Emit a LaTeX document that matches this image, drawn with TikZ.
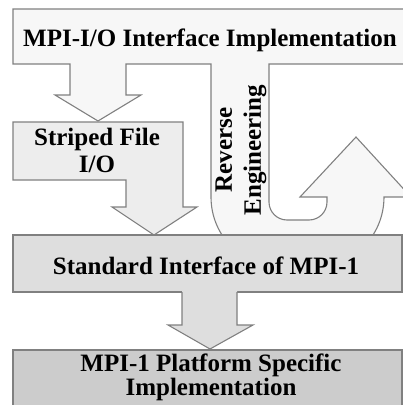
\documentclass[tikz,border=0pt]{standalone}
\usepackage{fontspec}
\setmainfont{Liberation Serif}
\begin{document}
\begin{tikzpicture}[x=1pt, y=-1pt,
  blk/.style={draw=black!50, line width=1.1pt},
  lbl/.style={font=\fontsize{25}{27}\selectfont\bfseries, align=center, inner sep=0pt}]
  \useasboundingbox (0,0) rectangle (403,405);
  \clip (0,0) rectangle (403,405);
  \filldraw[blk, fill=black!3] (13,9) -- (420,9) -- (420,64) -- (269,64) -- (269,202)
    arc[start angle=180, end angle=90, radius=18] -- (309,220)
    arc[start angle=90, end angle=0, radius=18] -- (327,197) -- (300,197) -- (356,137)
    -- (411,197) -- (384,197) arc[start angle=0, end angle=90, radius=71] -- (282,268)
    arc[start angle=90, end angle=180, radius=71] -- (211,64) -- (126,64) -- (126,95)
    -- (141,95) -- (98,121) -- (55,95) -- (70,95) -- (70,64) -- (13,64) -- cycle;
  \filldraw[blk, fill=black!7] (13,122) -- (183,122) -- (183,207) -- (197,207) -- (154,235)
    -- (112,207) -- (126,207) -- (126,180) -- (13,180) -- cycle;
  \filldraw[blk, fill=black!13] (13,235) rectangle (402,292);
  \fill[black!13] (182,291) -- (182,325) -- (168,325) -- (210,349) -- (253,325) -- (237,325) -- (237,291) -- cycle;
  \draw[blk] (182,292) -- (182,325) -- (168,325) -- (210,349) -- (253,325) -- (237,325) -- (237,292);
  \filldraw[blk, fill=black!20] (13,350) rectangle (402,420);
  \node[lbl, anchor=base] (mpiio) at (210,46) {MPI-I/O Interface Implementation};
  \node[lbl, font=\fontsize{25}{27}\selectfont\bfseries] (striped) at (97,150) {Striped File\\I/O};
  \node[lbl, rotate=90, font=\fontsize{25}{29}\selectfont\bfseries] (reverse) at (241,150) {Reverse\\Engineering};
  \node[lbl, anchor=base] (standard) at (206,274) {Standard Interface of MPI-1};
  \node[lbl, font=\fontsize{25}{24}\selectfont\bfseries] (platform) at (211,377) {MPI-1 Platform Specific\\Implementation};
\end{tikzpicture}
\end{document}
